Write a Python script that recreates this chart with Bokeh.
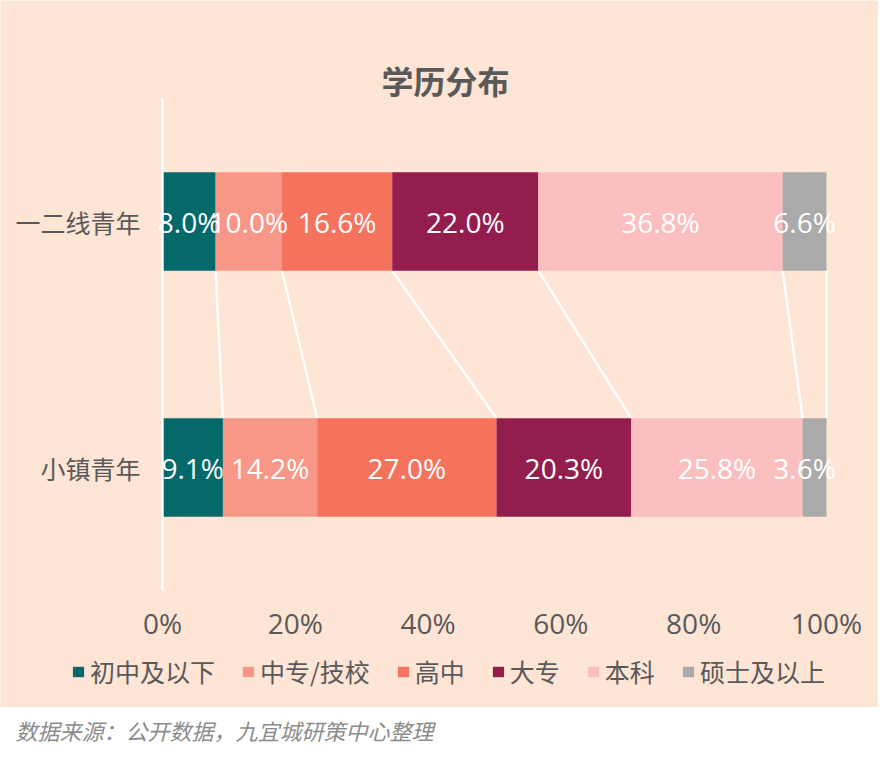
from bokeh.plotting import figure
from bokeh.models import (ColumnDataSource, Range1d, FixedTicker,
                          NumeralTickFormatter, Legend, LegendItem, Label)
from bokeh.layouts import column
from bokeh.embed import file_html
from bokeh.resources import INLINE
from bokeh.core.properties import value

# ---------------- data ----------------
groups = ["一二线青年", "小镇青年"]
levels = ["初中及以下", "中专/技校", "高中", "大专", "本科", "硕士及以上"]
tier12 = [8.0, 10.0, 16.6, 22.0, 36.8, 6.6]
town = [9.1, 14.2, 27.0, 20.3, 25.8, 3.6]
colors = ["#05696A", "#F79787", "#F5735D", "#931D4C", "#FBBFBF", "#AAAAAA"]
ticks = [0, 0.2, 0.4, 0.6, 0.8, 1.0]
title_text = "学历分布"
source_note = "数据来源：公开数据，九宜城研策中心整理"

BG = "#FEE5D5"
TXT = "#595959"
CJK = "Noto Sans CJK SC"
NUM = "Open Sans"

series = {"一二线青年": tier12, "小镇青年": town}
n = len(groups)
ypos = [n - i - 0.5 for i in range(n)]          # band centres (top group first)

data = {"y": ypos}
for i, lv in enumerate(levels):
    data[lv] = [series[g][i] / 100.0 for g in groups]
src = ColumnDataSource(data)

# ---------------- geometry (pixels) ----------------
W, H = 878, 707
PX0, PX100 = 162, 826          # where 0% and 100% sit
TOP, BOTTOM = 98, 590          # plot band (two category bands)
sx = (PX100 - PX0)             # px per 1.0 on x
sy = (BOTTOM - TOP) / n        # px per category band

x_rng = Range1d(-PX0 / sx, (W - PX0) / sx)
y_rng = Range1d(n - (H - TOP) / sy, n + TOP / sy)

p = figure(width=W, height=H, x_range=x_rng, y_range=y_rng,
           output_backend="svg", toolbar_location=None,
           min_border=0)
p.background_fill_color = BG
p.border_fill_color = BG
p.outline_line_color = None
p.grid.visible = False

# connector lines between the two bars
def cums(vals):
    out, s = [], 0.0
    for v in vals:
        s += v
        out.append(s / 100.0)
    return out

BAR_H = 0.4
top_c = cums(tier12)
bot_c = cums(town)
conn = ColumnDataSource(dict(
    x0=top_c, x1=bot_c,
    y0=[ypos[0] - BAR_H / 2] * len(top_c),
    y1=[ypos[1] + BAR_H / 2] * len(bot_c)))
p.segment(x0="x0", y0="y0", x1="x1", y1="y1", source=conn,
          line_color="white", line_width=2.4)

rs = p.hbar_stack(levels, y="y", height=BAR_H, color=colors,
                  line_color=None, source=src)

# value labels (centred in each segment, kept inside the 100% edge)
lx, ly, lt = [], [], []
for g, yy in zip(groups, ypos):
    s = 0.0
    for v in series[g]:
        lx.append(min((s + v / 2.0) / 100.0, 0.967))
        ly.append(yy)
        lt.append(f"{v:.1f}%")
        s += v
lab = ColumnDataSource(dict(x=lx, y=ly, t=lt))
p.text(x="x", y="y", text="t", source=lab, text_color="white",
       text_font=value(NUM), text_font_size="28px",
       text_align="center", text_baseline="middle")

# x axis: drawn at the bottom of the category bands
xa = p.xaxis[0]
xa.fixed_location = 0
xa.ticker = FixedTicker(ticks=ticks)
xa.formatter = NumeralTickFormatter(format="0%")
xa.axis_line_color = None
xa.major_tick_line_color = None
xa.minor_tick_line_color = None
xa.major_label_text_font = NUM
xa.major_label_text_font_size = "28px"
xa.major_label_text_color = TXT
xa.major_label_standoff = 7

# y axis: at 0%, white line over the two bands
ya = p.yaxis[0]
ya.fixed_location = 0
ya.bounds = (0, n)
ya.ticker = FixedTicker(ticks=ypos)
ya.major_label_overrides = {yy: g for yy, g in zip(ypos, groups)}
ya.axis_line_color = "white"
ya.axis_line_width = 2.4
ya.major_tick_line_color = None
ya.minor_tick_line_color = None
ya.major_label_text_font = CJK
ya.major_label_text_font_size = "25px"
ya.major_label_text_color = TXT
ya.major_label_standoff = 16

# title
p.title.visible = False
p.add_layout(Label(x=(445 - PX0) / sx, y=n + (TOP - 79) / sy, text=title_text,
                   text_font=CJK, text_font_size="32px", text_font_style="bold",
                   text_color=TXT, text_align="center", text_baseline="middle"))

# legend (inside the frame, below the tick labels)
items = [LegendItem(label=lv, renderers=[r]) for lv, r in zip(levels, rs)]
leg = Legend(items=items, orientation="horizontal", location=(71, 18),
             glyph_width=14, glyph_height=13, label_standoff=5, spacing=26,
             padding=0, margin=0, border_line_color=None,
             background_fill_alpha=0, label_text_font=CJK,
             label_text_font_size="25px", label_text_color=TXT)
p.add_layout(leg)

# source note strip (white)
p2 = figure(width=W, height=43, output_backend="svg", toolbar_location=None,
            min_border_left=0, min_border_right=0,
            min_border_top=38, min_border_bottom=5)
p2.axis.visible = False
p2.grid.visible = False
p2.outline_line_color = None
p2.background_fill_color = "white"
p2.border_fill_color = "white"
p2.title.text = source_note
p2.title.text_font = CJK
p2.title.text_font_style = "italic"
p2.title.text_font_size = "22px"
p2.title.text_color = "#8C8C8C"
p2.title.align = "left"
p2.title.offset = 15
p2.title.standoff = 0

layout = column(p, p2, spacing=0)
open("out.html", "w").write(file_html(layout, INLINE))
